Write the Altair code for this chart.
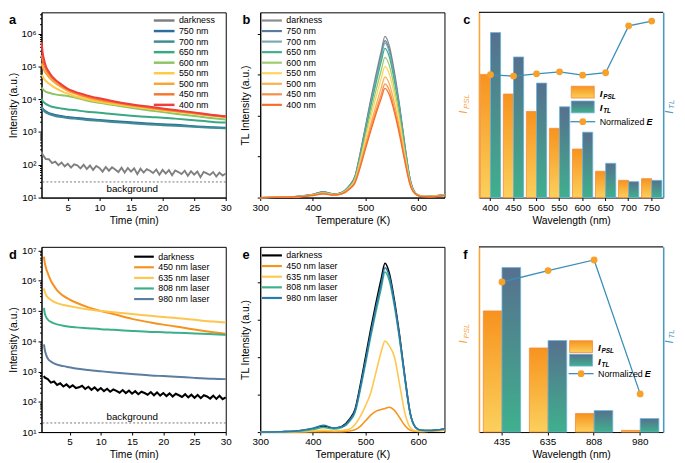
import altair as alt
import pandas as pd

FONT = "Liberation Sans"
W, H = 187, 188

# ---------------- panel a : decay after stimulation at various wavelengths
A_T = [0.85, 1.0, 1.25, 1.5, 2, 2.5, 3, 4, 5, 6, 8, 10, 12, 15, 18, 20, 22, 25, 28, 30]
A_NAMES = ["darkness", "750 nm", "700 nm", "650 nm", "600 nm", "550 nm", "500 nm", "450 nm", "400 nm"]
A_COLORS = ["#7f7f7f", "#2c6e9b", "#3f8c95", "#39a883", "#8cc563", "#fecb47", "#f9a535", "#f4782f", "#ee3f3c"]
A_750 = [6030, 5250, 4680, 4270, 3800, 3550, 3310, 3090, 2880, 2750, 2510, 2340, 2190, 2000, 1820, 1740, 1660, 1510, 1410, 1350]
A_700 = [5750, 5010, 4370, 3980, 3550, 3310, 3090, 2880, 2690, 2570, 2340, 2190, 2040, 1860, 1700, 1620, 1550, 1450, 1350, 1290]
A_650 = [10500, 8910, 7940, 7240, 6460, 5890, 5620, 5250, 4900, 4680, 4170, 3890, 3550, 3160, 2880, 2750, 2570, 2290, 2040, 1950]
A_600 = [22900, 20900, 18600, 17000, 15800, 14800, 14100, 13200, 12600, 11500, 9120, 7760, 6760, 5500, 4570, 4070, 3630, 3090, 2630, 2400]
A_550 = [56200, 50100, 41700, 36300, 30200, 25700, 22400, 17800, 14800, 12600, 10000, 8320, 7240, 6030, 5130, 4570, 4170, 3630, 3160, 2880]
A_500 = [126000, 100000, 75900, 63100, 47900, 38000, 31600, 23400, 18200, 15100, 11500, 9330, 7940, 6460, 5370, 4790, 4370, 3720, 3160, 2880]
A_450 = [224000, 158000, 112000, 85100, 58900, 45700, 37200, 26300, 20000, 16200, 12300, 10000, 8510, 6760, 5620, 5010, 4470, 3800, 3240, 2950]
A_400 = [562000, 282000, 158000, 105000, 69200, 50100, 39800, 28200, 20900, 17400, 13200, 10700, 8910, 7080, 5890, 5250, 4680, 3980, 3310, 3020]
A_DARK_T = [0.85] + [1.0 + 0.5 * i for i in range(59)]
A_DARK = [250, 205, 150, 148, 112, 125, 98, 118, 90, 108,
          82, 104, 96, 78, 100, 74, 95, 70, 92, 80,
          62, 86, 66, 84, 72, 60, 82, 58, 80, 62,
          78, 52, 76, 58, 74, 66, 56, 72, 50, 70,
          54, 69, 48, 67, 60, 52, 66, 46, 64, 50,
          62, 42, 61, 55, 49, 60, 44, 58, 47, 54]
A_BG = 30

# ---------------- panel b : TL curves after stimulation
TL_T = [300, 340, 370, 400, 420, 440, 455, 470, 480, 490, 500, 510, 520, 530, 537, 545, 555, 565, 575, 585, 595, 605, 620, 650]
B_NAMES = ["darkness", "750 nm", "700 nm", "650 nm", "600 nm", "550 nm", "500 nm", "450 nm", "400 nm"]
B_COLORS = ["#8c8c8c", "#587a9c", "#78a9b5", "#40ad8c", "#9ecb6e", "#fdd45c", "#fab04f", "#f88d45", "#f66e2c"]
B_DARK = [0, .01, .03, .08, .14, .09, .13, .31, .53, 1.10, 1.75, 2.41, 3.02, 3.59, 3.94, 3.72, 3.07, 2.23, 1.27, .44, .11, .04, .04, .07]
B_750 = [0, .01, .03, .08, .14, .09, .13, .30, .51, 1.07, 1.71, 2.35, 2.94, 3.50, 3.84, 3.63, 2.99, 2.18, 1.24, .43, .11, .04, .03, .07]
B_700 = [0, .01, .03, .08, .13, .08, .13, .29, .50, 1.05, 1.68, 2.31, 2.90, 3.44, 3.78, 3.57, 2.94, 2.14, 1.22, .42, .11, .04, .03, .07]
B_650 = [0, .01, .02, .07, .13, .08, .12, .28, .49, 1.01, 1.62, 2.23, 2.80, 3.33, 3.65, 3.45, 2.84, 2.07, 1.18, .41, .11, .04, .03, .06]
B_600 = [0, .01, .02, .07, .12, .08, .11, .27, .46, .95, 1.52, 2.10, 2.63, 3.12, 3.43, 3.24, 2.67, 1.94, 1.10, .38, .10, .04, .03, .06]
B_550 = [0, .01, .02, .06, .11, .07, .11, .25, .43, .89, 1.43, 1.96, 2.46, 2.92, 3.21, 3.03, 2.50, 1.82, 1.03, .36, .09, .04, .03, .06]
B_500 = [0, .01, .02, .06, .10, .07, .10, .23, .39, .82, 1.31, 1.80, 2.26, 2.69, 2.95, 2.79, 2.30, 1.67, .95, .33, .09, .03, .03, .05]
B_450 = [0, .01, .02, .06, .10, .06, .09, .22, .37, .77, 1.24, 1.70, 2.13, 2.53, 2.78, 2.63, 2.16, 1.58, .90, .31, .08, .03, .02, .05]
B_400 = [0, .01, .02, .05, .09, .06, .09, .21, .36, .74, 1.19, 1.63, 2.05, 2.43, 2.67, 2.52, 2.08, 1.51, .86, .30, .08, .03, .02, .05]

# ---------------- panel c : bars + normalized E
C_WL = ["400", "450", "500", "550", "600", "650", "700", "750"]
C_PSL = [0.665, 0.559, 0.465, 0.374, 0.262, 0.142, 0.093, 0.102]
C_TL = [0.891, 0.759, 0.618, 0.490, 0.353, 0.185, 0.086, 0.093]
C_E = [0.663, 0.656, 0.668, 0.679, 0.661, 0.674, 0.927, 0.953]

# ---------------- panel d : decay after laser stimulation
D_T = [0.9, 1.0, 1.25, 1.5, 2, 2.5, 3, 4, 5, 6, 8, 10, 12, 15, 18, 20, 22, 25, 28, 30]
D_NAMES = ["darkness", "450 nm laser", "635 nm laser", "808 nm laser", "980 nm laser"]
D_COLORS = ["#000000", "#f7921e", "#fdc64e", "#3caf8a", "#5b7da1"]
D_450 = [6310000, 4170000, 2510000, 1780000, 1000000, 676000, 479000, 316000, 240000, 191000, 132000, 100000, 79400, 55000, 41700, 35500, 30900, 24500, 20000, 17800]
D_635 = [562000, 447000, 331000, 282000, 234000, 200000, 182000, 158000, 145000, 132000, 112000, 100000, 91200, 79400, 69200, 63100, 58900, 51300, 44700, 41700]
D_808 = [126000, 89100, 63100, 52500, 43700, 38900, 36300, 32400, 30200, 28800, 26900, 25100, 24000, 21900, 20400, 20000, 19100, 18200, 17000, 16200]
D_980 = [7940, 5620, 3550, 2690, 2140, 1860, 1700, 1510, 1380, 1260, 1120, 1020, 933, 832, 741, 708, 676, 617, 575, 562]
D_DARK_T = [0.9] + [1.0 + 0.5 * i for i in range(59)]
D_DARK = [720, 640, 560, 430, 470, 360, 410, 320, 375, 300,
          350, 285, 300, 340, 265, 315, 250, 300, 235, 285,
          225, 270, 215, 255, 230, 200, 245, 195, 235, 185,
          225, 178, 215, 195, 172, 210, 165, 205, 160, 195,
          155, 190, 150, 185, 165, 145, 178, 140, 172, 136,
          168, 132, 165, 150, 128, 160, 125, 158, 122, 140]
D_BG = 20

# ---------------- panel e : TL curves after laser stimulation
E_NAMES = ["darkness", "450 nm laser", "635 nm laser", "808 nm laser", "980 nm laser"]
E_COLORS = ["#000000", "#f7941d", "#fdc850", "#3db08c", "#2a7aae"]
E_DARK = [0, .01, .03, .09, .16, .10, .15, .35, .60, 1.25, 2.00, 2.75, 3.45, 4.10, 4.50, 4.25, 3.50, 2.55, 1.45, .50, .13, .05, .04, .08]
E_450 = [0, 0, 0, .01, .01, .01, .01, .03, .06, .15, .30, .45, .56, .60, .63, .66, .58, .38, .17, .05, .02, .01, .02, .05]
E_635 = [0, 0, .01, .03, .05, .03, .04, .08, .20, .42, .70, 1.05, 1.60, 2.15, 2.43, 2.30, 2.00, 1.25, .50, .12, .03, .02, .03, .06]
E_808 = [0, .01, .02, .07, .12, .08, .12, .29, .52, 1.12, 1.82, 2.55, 3.22, 3.85, 4.27, 4.05, 3.35, 2.44, 1.39, .48, .12, .05, .04, .08]
E_980 = [0, .01, .03, .10, .18, .11, .14, .32, .56, 1.18, 1.90, 2.64, 3.33, 3.96, 4.38, 4.16, 3.43, 2.50, 1.42, .49, .13, .05, .04, .08]

# ---------------- panel f : bars + normalized E
F_WL = ["435", "635", "808", "980"]
F_PSL = [0.654, 0.454, 0.100, 0.009]
F_TL = [0.888, 0.494, 0.116, 0.073]
F_E = [0.810, 0.872, 0.929, 0.206]

ORANGE_AX = "#f9a53a"
BLUE_AX = "#4a9ac2"
LINE_BLUE = "#3a8eba"
PT_ORANGE = "#f7a12b"
G_OR = alt.Gradient(gradient="linear", x1=0, x2=0, y1=1, y2=0,
                    stops=[alt.GradientStop(color="#fbd05c", offset=0), alt.GradientStop(color="#f7931e", offset=1)])
G_TE = alt.Gradient(gradient="linear", x1=0, x2=0, y1=1, y2=0,
                    stops=[alt.GradientStop(color="#3fb08d", offset=0), alt.GradientStop(color="#56708f", offset=1)])

IS_DEC = "abs(log(datum.value)/LN10 - round(log(datum.value)/LN10)) < 0.01"
LBL = IS_DEC + " ? '10' + ['\u2070','\u00b9','\u00b2','\u00b3','\u2074','\u2075','\u2076','\u2077','\u2078','\u2079'][round(log(datum.value)/LN10)] : ''"
TSZ = {"condition": {"test": IS_DEC, "value": 3.5}, "value": 2}
LFS = {"condition": {"test": IS_DEC, "value": 10}, "value": 0.1}


def log_ticks(top):
    return [m * 10 ** k for k in range(1, 8) for m in range(1, 10) if m * 10 ** k <= top]


def long_df(xs, names, series, xname):
    rows = []
    for n, ys in zip(names, series):
        for x, y in zip(xs, ys):
            rows.append({xname: x, "v": y, "s": n})
    return pd.DataFrame(rows)


def txt(s, x, y, size=9.0, color="black", weight="normal", style="normal", angle=0, align="left", baseline="alphabetic"):
    return alt.Chart(pd.DataFrame({"s": [s]})).mark_text(
        align=align, baseline=baseline, fontSize=size, fontWeight=weight, fontStyle=style,
        angle=angle, color=color, font=FONT).encode(text="s:N", x=alt.value(x), y=alt.value(y))


def panel_label(ch, x):
    return txt(ch, x, 12, size=13, weight="bold")


def line_legend(names, colors, x0, x1, y0, dy, sw, size=9.0):
    df = pd.DataFrame({"name": names, "col": colors, "yy": [y0 + dy * i for i in range(len(names))]})
    base = alt.Chart(df)
    yy = alt.Y("yy:Q", scale=None, axis=None)
    rules = base.mark_rule(strokeWidth=sw).encode(
        x=alt.value(x0), x2=alt.value(x1), y=yy, color=alt.Color("col:N", scale=None, legend=None))
    texts = base.mark_text(align="left", baseline="middle", fontSize=size, font=FONT, color="black").encode(
        x=alt.value(x1 + 4.5), y=yy, text="name:N")
    return [rules, texts]


def decay_panel(lab, dark_t, dark_v, dark_col, dark_w, t, names, colors, series, xdom, ytop, bg, bg_dy,
                leg, lw):
    xa = alt.X("t:Q", scale=alt.Scale(domain=xdom, nice=False, zero=False),
               axis=alt.Axis(values=[5, 10, 15, 20, 25, 30], title="Time (min)"))
    ya = alt.Y("v:Q", scale=alt.Scale(type="log", domain=[10, ytop], nice=False),
               axis=alt.Axis(values=log_ticks(ytop), labelExpr=LBL, tickSize=TSZ, labelFontSize=LFS,
                             labelOverlap=False, title="Intensity (a.u.)", titlePadding=2))
    dark = alt.Chart(pd.DataFrame({"t": dark_t, "v": dark_v})).mark_line(
        color=dark_col, strokeWidth=dark_w).encode(x=xa, y=ya)
    lines = alt.Chart(long_df(t, names[1:], series, "t")).mark_line(
        strokeWidth=lw, interpolate="monotone").encode(
        x=xa, y=ya, color=alt.Color("s:N", scale=alt.Scale(domain=names[1:], range=colors[1:]), legend=None))
    bgr = alt.Chart(pd.DataFrame({"v": [bg]})).mark_rule(strokeDash=[2, 2], strokeWidth=0.8, color="#555").encode(y=ya)
    bgt = alt.Chart(pd.DataFrame({"v": [bg], "s": ["background"]})).mark_text(
        fontSize=10, dy=bg_dy, baseline="middle", font=FONT, color="black").encode(y=ya, x=alt.value(92), text="s:N")
    return alt.layer(dark, lines, bgr, bgt, *line_legend(names, colors, *leg),
                     panel_label(lab, -33)).properties(width=W, height=H)


def tl_panel(lab, names, colors, series, ytop, leg, lw):
    xb = alt.X("T:Q", scale=alt.Scale(domain=[300, 650], nice=False, zero=False),
               axis=alt.Axis(values=[300, 400, 500, 600], title="Temperature (K)"))
    yb = alt.Y("v:Q", scale=alt.Scale(domain=[0, ytop], nice=False),
               axis=alt.Axis(values=[0, 1, 2, 3, 4], labels=False, title="TL Intensity (a.u.)", titlePadding=6))
    lines = alt.Chart(long_df(TL_T, names, series, "T")).mark_line(
        strokeWidth=lw, interpolate="monotone").encode(
        x=xb, y=yb, color=alt.Color("s:N", scale=alt.Scale(domain=names, range=colors), legend=None))
    return alt.layer(lines, *line_legend(names, colors, *leg), panel_label(lab, -18)).properties(width=W, height=H)


def bar_panel(lab, wl, psl, tl, e, pad, leg):
    one = pd.DataFrame({"a": [0]})
    scx = alt.Scale(paddingInner=pad, paddingOuter=pad / 2)
    axx = alt.Axis(title="Wavelength (nm)", labelAngle=0)
    xo = alt.XOffset("kind:N", scale=alt.Scale(domain=["PSL", "TL"], paddingInner=0, paddingOuter=0))
    df_p = pd.DataFrame({"wl": wl, "v": psl, "kind": "PSL"})
    df_t = pd.DataFrame({"wl": wl, "v": tl, "kind": "TL"})
    df_e = pd.DataFrame({"wl": wl, "E": e})
    b1 = alt.Chart(df_p).mark_bar(fill=G_OR, stroke="#f58a3c", strokeWidth=0.8).encode(
        x=alt.X("wl:N", sort=wl, scale=scx, axis=axx), xOffset=xo,
        y=alt.Y("v:Q", scale=alt.Scale(domain=[0, 1], nice=False),
                axis=alt.Axis(orient="left", ticks=False, labels=False, title=None,
                              domainColor=ORANGE_AX, domainWidth=1.6)))
    b2 = alt.Chart(df_t).mark_bar(fill=G_TE, stroke="#6ab4da", strokeWidth=0.8).encode(
        x=alt.X("wl:N", sort=wl, scale=scx, axis=axx), xOffset=xo,
        y=alt.Y("v:Q", scale=alt.Scale(domain=[0, 1], nice=False),
                axis=alt.Axis(orient="right", ticks=False, labels=False, title=None,
                              domainColor=BLUE_AX, domainWidth=1.6)))
    xe = alt.X("wl:N", sort=wl, scale=scx, axis=axx, bandPosition=0.5)
    ye = alt.Y("E:Q", scale=alt.Scale(domain=[0, 1], nice=False), axis=None)
    ln = alt.Chart(df_e).mark_line(color=LINE_BLUE, strokeWidth=1.3).encode(x=xe, y=ye)
    pt = alt.Chart(df_e).mark_circle(size=48, color=PT_ORANGE, opacity=1).encode(x=xe, y=ye)
    top = alt.Chart(one).mark_rule(color="#222", strokeWidth=1.3).encode(
        x=alt.value(0), x2=alt.value(W), y=alt.value(0))
    lx0, lx1, ry1, ry2, ly, ty = leg
    r1 = alt.Chart(one).mark_rect(fill=G_OR, stroke="#f58a3c", strokeWidth=0.8).encode(
        x=alt.value(lx0), x2=alt.value(lx1), y=alt.value(ry1), y2=alt.value(ry1 + 12))
    r2 = alt.Chart(one).mark_rect(fill=G_TE, stroke="#6ab4da", strokeWidth=0.8).encode(
        x=alt.value(lx0), x2=alt.value(lx1), y=alt.value(ry2), y2=alt.value(ry2 + 12))
    ll = alt.Chart(one).mark_rule(color=LINE_BLUE, strokeWidth=1.3).encode(
        x=alt.value(lx0 - 1), x2=alt.value(lx1 + 1), y=alt.value(ly))
    lp = alt.Chart(one).mark_circle(size=48, color=PT_ORANGE, opacity=1).encode(
        x=alt.value((lx0 + lx1) / 2), y=alt.value(ly))
    tx = lx1 + 5.5
    texts = [
        txt("I", tx, ry1 + 10.5, size=10, weight="bold", style="italic"),
        txt("PSL", tx + 3.6, ry1 + 12.5, size=6.5, weight="bold", style="italic"),
        txt("I", tx, ry2 + 10.5, size=10, weight="bold", style="italic"),
        txt("TL", tx + 3.6, ry2 + 12.5, size=6.5, weight="bold", style="italic"),
        txt("Normalized", tx, ly, size=9, baseline="middle"),
        txt("E", tx + 47.5, ly, size=9, weight="bold", style="italic", baseline="middle"),
        txt("I", -15, ty + 5, size=11, style="italic", color=ORANGE_AX, angle=270, baseline="middle"),
        txt("PSL", -12.3, ty, size=8, style="italic", color=ORANGE_AX, angle=270, baseline="middle"),
        txt("I", W + 6.5, ty + 5, size=11, style="italic", color=BLUE_AX, angle=270, baseline="middle"),
        txt("TL", W + 9.3, ty, size=8, style="italic", color=BLUE_AX, angle=270, baseline="middle"),
    ]
    return alt.layer(b1, b2, ln, pt, top, r1, r2, ll, lp, *texts, panel_label(lab, -16)).resolve_scale(
        y="independent").properties(width=W, height=H, view=alt.ViewBackground(strokeOpacity=0))


pa = decay_panel("a", A_DARK_T, A_DARK, A_COLORS[0], 1.9, A_T, A_NAMES, A_COLORS,
                 [A_750, A_700, A_650, A_600, A_550, A_500, A_450, A_400],
                 [0.83, 30], 4.5e6, A_BG, 7, (114, 135, 8.3, 10.7, 2.5), 2)
pb = tl_panel("b", B_NAMES, B_COLORS, [B_DARK, B_750, B_700, B_650, B_600, B_550, B_500, B_450, B_400],
              4.53, (1.7, 22, 8.3, 10.7, 2.2), 1.3)
pc = bar_panel("c", C_WL, C_PSL, C_TL, C_E, 0.12, (93.7, 117, 75, 90, 111, 98))
pd_ = decay_panel("d", D_DARK_T, D_DARK, D_COLORS[0], 2.1, D_T, D_NAMES, D_COLORS,
                  [D_450, D_635, D_808, D_980],
                  [0.5, 30], 1.32e7, D_BG, -6, (94, 114, 10, 10.75, 2.2), 2)
pe = tl_panel("e", E_NAMES, E_COLORS, [E_DARK, E_450, E_635, E_808, E_980],
              4.94, (1.7, 22, 8.7, 10.8, 2.2), 1.6)
pf = bar_panel("f", F_WL, F_PSL, F_TL, F_E, 0.19, (92, 115.3, 95.3, 109, 128.7, 93))

chart = alt.concat(
    pa, pb, pc, pd_, pe, pf, columns=3, bounds="flush",
    spacing=alt.RowColnumber(row=50, column=35)
).resolve_scale(
    x="independent", y="independent", color="independent", xOffset="independent"
).properties(padding=0).configure_view(
    stroke="black", strokeWidth=1
).configure_axis(
    labelFont=FONT, titleFont=FONT, labelFontSize=10, titleFontSize=10.5, titleFontWeight="normal",
    labelColor="black", titleColor="black", tickColor="black", domainColor="black",
    tickSize=3, labelPadding=2, titlePadding=3, grid=False, labelFlush=False
).configure_text(font=FONT)

chart.save("out.html", embed_options={"renderer": "svg", "actions": False})
